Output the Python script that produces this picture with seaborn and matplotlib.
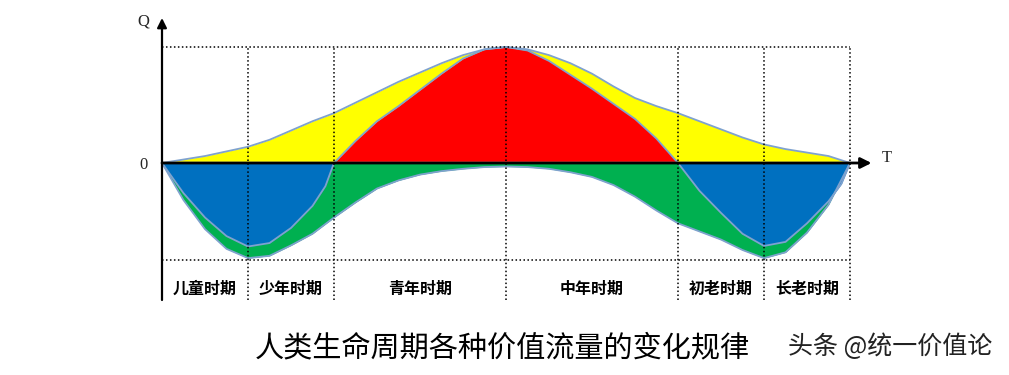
import matplotlib
matplotlib.use("Agg")
import matplotlib.pyplot as plt
import seaborn as sns
import numpy as np

# ─── Data ──────────────────────────────────────────────────────────────────
# life stages: boundaries on the time axis and their labels
stage_edges = [0, 1, 2, 4, 6, 7, 8]
stage_names = ["儿童时期", "少年时期", "青年时期", "中年时期", "初老时期", "长老时期"]

# sample ages for the curves
ages = [0, 0.25, 0.5, 0.75, 1.0, 1.25, 1.5, 1.75, 2.0, 2.25, 2.5, 2.75, 3.0,
        3.25, 3.5, 3.75, 4.0, 4.25, 4.5, 4.75, 5.0, 5.25, 5.5, 5.75, 6.0,
        6.25, 6.5, 6.75, 7.0, 7.25, 7.5, 7.75, 8.0]

# yellow: total positive value flow
yellow_top = [0, 0.03, 0.06, 0.10, 0.14, 0.20, 0.28, 0.36, 0.43, 0.52, 0.61,
              0.70, 0.78, 0.86, 0.93, 0.98, 1.0, 0.98, 0.93, 0.86, 0.77,
              0.66, 0.56, 0.49, 0.43, 0.36, 0.29, 0.22, 0.16, 0.12, 0.09,
              0.06, 0.0]

# red: net positive part during youth / middle age
red_ages = [2.0, 2.25, 2.5, 2.75, 3.0, 3.25, 3.5, 3.75, 4.0, 4.25, 4.5, 4.75,
            5.0, 5.25, 5.5, 5.75, 6.0]
red_top = [0, 0.19, 0.36, 0.49, 0.63, 0.77, 0.90, 0.98, 1.0, 0.97, 0.88,
           0.76, 0.64, 0.51, 0.38, 0.21, 0]

# green: total negative value flow
green_bottom = [0, -0.32, -0.57, -0.74, -0.82, -0.80, -0.71, -0.61, -0.47,
                -0.34, -0.22, -0.15, -0.10, -0.07, -0.05, -0.035, -0.03,
                -0.035, -0.05, -0.08, -0.12, -0.19, -0.29, -0.41, -0.52,
                -0.59, -0.66, -0.75, -0.82, -0.77, -0.60, -0.36, 0]

# blue: net negative part in childhood / old age
blue_left_ages = [0, 0.25, 0.5, 0.75, 1.0, 1.25, 1.5, 1.75, 1.9, 2.0]
blue_left = [0, -0.26, -0.47, -0.63, -0.72, -0.69, -0.56, -0.37, -0.20, 0]
blue_right_ages = [6.0, 6.25, 6.5, 6.75, 7.0, 7.25, 7.5, 7.75, 7.9, 8.0]
blue_right = [0, -0.24, -0.43, -0.61, -0.715, -0.68, -0.52, -0.33, -0.18, 0]

title = "人类生命周期各种价值流量的变化规律"
watermark = "头条 @统一价值论"

# ─── Colours ────────────────────────────────────────────────────────────────
YELLOW = "#FFFF00"
RED = "#FF0000"
GREEN = "#00B050"
BLUE = "#0070C0"
EDGE = "#7FA2CE"

sns.set_theme(style="white")
plt.rcParams["font.family"] = ["Noto Sans CJK SC", "DejaVu Sans"]

fig = plt.figure(figsize=(10.09, 3.75), dpi=100)
fig.patch.set_facecolor("white")
ax = fig.add_axes([0, 0, 1, 1])
ax.set_facecolor("white")
# pixel mapping: t=0 -> x 162, 86 px per unit; y=0 -> row 163, 116 px per unit
ax.set_xlim(-162 / 86, (1009 - 162) / 86)
ax.set_ylim((163 - 375) / 116, 163 / 116)
ax.axis("off")

# fills
ax.fill_between(ages, 0, yellow_top, color=YELLOW, lw=0, zorder=1)
ax.fill_between(ages, 0, green_bottom, color=GREEN, lw=0, zorder=1)
ax.fill_between(red_ages, 0, red_top, color=RED, lw=0, zorder=2)
ax.fill_between(blue_left_ages, 0, blue_left, color=BLUE, lw=0, zorder=2)
ax.fill_between(blue_right_ages, 0, blue_right, color=BLUE, lw=0, zorder=2)

# outlines
for xs, ys in [(ages, yellow_top), (red_ages, red_top), (ages, green_bottom),
               (blue_left_ages, blue_left), (blue_right_ages, blue_right)]:
    sns.lineplot(x=xs, y=ys, ax=ax, color=EDGE, lw=1.3, sort=False,
                 estimator=None, zorder=3)

# dotted guide lines
top_y, bot_y, low_end = 1.0, (163 - 260) / 116, (163 - 300) / 116
for e in stage_edges[1:]:
    ax.plot([e, e], [low_end, top_y], color="black", lw=1.1,
            ls=(0, (1, 1.6)), zorder=4)
ax.plot([0, 8], [top_y, top_y], color="black", lw=1.1, ls=(0, (1, 1.6)), zorder=4)
ax.plot([0, 8], [bot_y, bot_y], color="black", lw=1.1, ls=(0, (1, 1.6)), zorder=4)

# axes with arrows
ax.plot([0, 8.0], [0.012, 0.012], color="white", lw=1.0, zorder=4)
ax.annotate("", xy=(8.25, 0), xytext=(0, 0),
            arrowprops=dict(arrowstyle="-|>", color="black", lw=2.0,
                            mutation_scale=16, shrinkA=0, shrinkB=0), zorder=5)
ax.annotate("", xy=(0, (163 - 18) / 116), xytext=(0, low_end),
            arrowprops=dict(arrowstyle="-|>", color="black", lw=1.6,
                            mutation_scale=14, shrinkA=0, shrinkB=0), zorder=5)

serif = ["Liberation Serif", "DejaVu Serif"]
ax.text(-0.22, (163 - 22) / 116, "Q", family=serif, fontsize=12,
        ha="center", va="center")
ax.text(-0.22, -0.02, "0", family=serif, fontsize=12, ha="center", va="center")
ax.text(8.37, 0.04, "T", family=serif, fontsize=12, ha="left", va="center")

# stage labels
label_y = (163 - 289) / 116
for a, b, name in zip(stage_edges[:-1], stage_edges[1:], stage_names):
    ax.text((a + b) / 2, label_y, name, fontsize=11.5, fontweight="bold",
            ha="center", va="center", color="black")

fig.text(502 / 1009, 1 - 348 / 375, title, fontsize=21, ha="center",
         va="center", color="black")
fig.text(890 / 1009, 1 - 347 / 375, watermark, fontsize=18, ha="center",
         va="center", color="#222222")

fig.savefig("out.png", dpi=100, facecolor="white")
